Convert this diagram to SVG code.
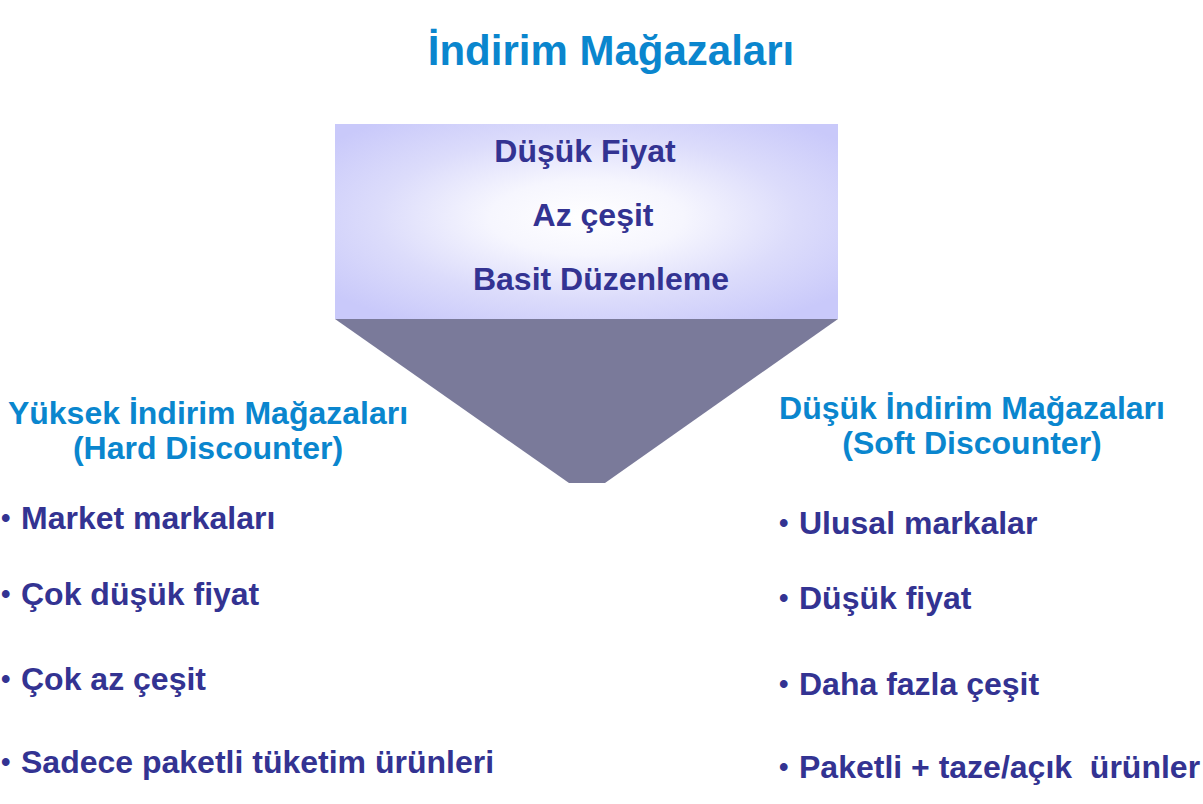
<svg xmlns="http://www.w3.org/2000/svg" width="1203" height="804" viewBox="0 0 1203 804">
<defs>
<radialGradient id="boxgrad" cx="0.5" cy="0.48" r="0.64" gradientUnits="objectBoundingBox">
<stop offset="0" stop-color="#FFFFFF"/>
<stop offset="0.3" stop-color="#F6F6FE"/>
<stop offset="0.65" stop-color="#DCDCFB"/>
<stop offset="1" stop-color="#C9C9FA"/>
</radialGradient>
</defs>
<style>
text{font-family:"Liberation Sans",Arial,sans-serif;font-weight:bold;}
.title{font-size:42px;fill:#0A86CE;}
.head{font-size:32px;fill:#0A86CE;}
.item{font-size:32px;fill:#333392;}
.bul{font-size:27px;}
</style>
<rect width="1203" height="804" fill="#FFFFFF"/>
<text class="title" x="611" y="65" text-anchor="middle">İndirim Mağazaları</text>
<g id="top-box">
<rect x="335" y="124" width="503" height="195" fill="url(#boxgrad)"/>
<text class="item" x="585" y="162" text-anchor="middle">Düşük Fiyat</text>
<text class="item" x="593" y="226" text-anchor="middle">Az çeşit</text>
<text class="item" x="601" y="290" text-anchor="middle">Basit Düzenleme</text>
</g>
<g id="funnel">
<polygon points="335,319 838,319 605,483 569,483" fill="#7A7A9A"/>
</g>
<g id="hard-discounter">
<text class="head" x="208" y="424" text-anchor="middle">Yüksek İndirim Mağazaları</text>
<text class="head" x="208" y="459" text-anchor="middle">(Hard Discounter)</text>
<text class="item"><tspan class="bul" x="1" y="527">•</tspan><tspan x="21" y="529">Market markaları</tspan></text>
<text class="item"><tspan class="bul" x="1" y="603">•</tspan><tspan x="21" y="605">Çok düşük fiyat</tspan></text>
<text class="item"><tspan class="bul" x="1" y="688">•</tspan><tspan x="21" y="690">Çok az çeşit</tspan></text>
<text class="item"><tspan class="bul" x="1" y="771">•</tspan><tspan x="21" y="773">Sadece paketli tüketim ürünleri</tspan></text>
</g>
<g id="soft-discounter">
<text class="head" x="972" y="419" text-anchor="middle">Düşük İndirim Mağazaları</text>
<text class="head" x="972" y="454" text-anchor="middle">(Soft Discounter)</text>
<text class="item"><tspan class="bul" x="779" y="532">•</tspan><tspan x="799" y="534">Ulusal markalar</tspan></text>
<text class="item"><tspan class="bul" x="779" y="607">•</tspan><tspan x="799" y="609">Düşük fiyat</tspan></text>
<text class="item"><tspan class="bul" x="779" y="693">•</tspan><tspan x="799" y="695">Daha fazla çeşit</tspan></text>
<text class="item" xml:space="preserve"><tspan class="bul" x="779" y="776">•</tspan><tspan x="799" y="778">Paketli + taze/açık  ürünler</tspan></text>
</g>
<g id="connectors"></g>
</svg>
